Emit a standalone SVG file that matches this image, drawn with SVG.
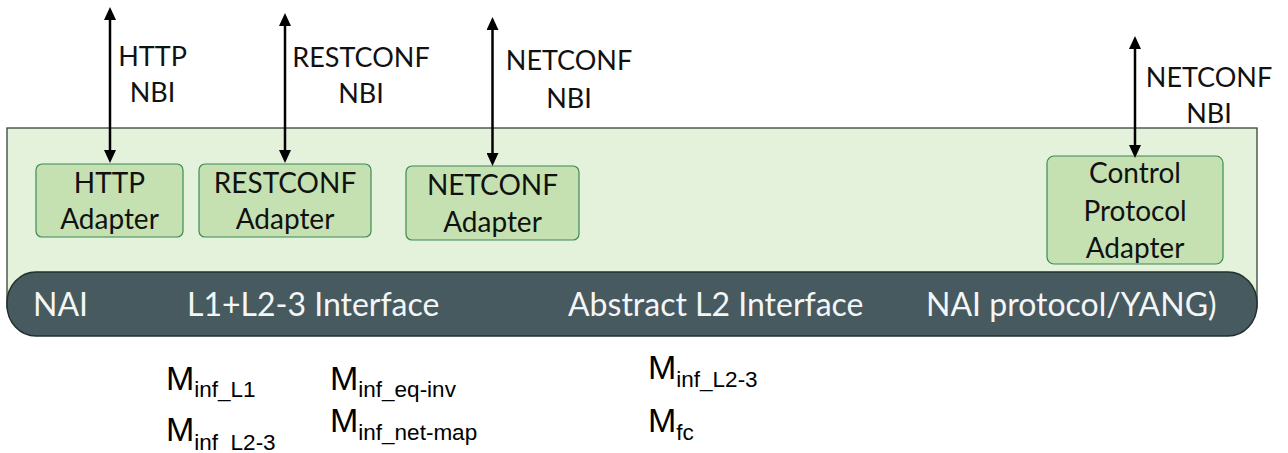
<svg xmlns="http://www.w3.org/2000/svg" width="1288" height="453" viewBox="0 0 1288 453">
  <style>
    .container { fill: #E4F1DB; stroke: #33443A; stroke-width: 1.3; }
    .adapter { fill: #C5E1B2; stroke: #3C8A55; stroke-width: 1.2; }
    .band { fill: #465A60; stroke: #22312C; stroke-width: 1.5; }
    .lbl { font-family: Lato, "Open Sans", sans-serif; font-size: 27px; fill: #111; text-anchor: middle; }
    .box-txt { font-size: 28px; }
    .band-txt { font-family: Lato, "Open Sans", sans-serif; font-size: 32px; fill: #F4F6F6; }
    .conn { stroke: #000; stroke-width: 2.5; fill: none; }
    .m { font-family: "Liberation Sans", Arial, sans-serif; font-size: 34px; fill: #000; }
    .sub { font-size: 22.5px; }
  </style>
  <defs>
    <marker id="head" markerUnits="userSpaceOnUse" markerWidth="13" markerHeight="12" refX="5" refY="6" orient="auto-start-reverse">
      <path d="M0,0 L13,6 L0,12 z" fill="#000"/>
    </marker>
  </defs>

  <!-- NAI container -->
  <g id="container">
    <rect class="container" x="7" y="128" width="1250" height="180"/>
  </g>

  <!-- NAI band -->
  <g id="nai-band">
    <rect class="band" x="7" y="272" width="1250" height="64" rx="29" ry="31"/>
    <text class="band-txt" x="33" y="316">NAI</text>
    <text class="band-txt" x="187" y="316">L1+L2-3 Interface</text>
    <text class="band-txt" x="568" y="316">Abstract L2 Interface</text>
    <text class="band-txt" x="926" y="316">NAI protocol/YANG)</text>
  </g>

  <!-- Adapters -->
  <g id="http-adapter">
    <rect class="adapter" x="36" y="164" width="147" height="73" rx="6"/>
    <text class="lbl box-txt" x="109.5" y="193">HTTP</text>
    <text class="lbl box-txt" x="109.5" y="229">Adapter</text>
  </g>
  <g id="restconf-adapter">
    <rect class="adapter" x="199" y="164" width="172" height="73" rx="6"/>
    <text class="lbl box-txt" x="285" y="193">RESTCONF</text>
    <text class="lbl box-txt" x="285" y="229">Adapter</text>
  </g>
  <g id="netconf-adapter">
    <rect class="adapter" x="406" y="166" width="173" height="74" rx="6"/>
    <text class="lbl box-txt" x="492.5" y="195">NETCONF</text>
    <text class="lbl box-txt" x="492.5" y="232">Adapter</text>
  </g>
  <g id="control-protocol-adapter">
    <rect class="adapter" x="1047" y="156" width="176" height="108" rx="7"/>
    <text class="lbl box-txt" x="1135" y="183">Control</text>
    <text class="lbl box-txt" x="1135" y="221">Protocol</text>
    <text class="lbl box-txt" x="1135" y="258">Adapter</text>
  </g>

  <!-- Northbound interfaces -->
  <g id="connectors">
    <line class="conn" x1="110" y1="15" x2="110" y2="155" marker-start="url(#head)" marker-end="url(#head)"/>
    <line class="conn" x1="285" y1="21" x2="285" y2="155" marker-start="url(#head)" marker-end="url(#head)"/>
    <line class="conn" x1="492.5" y1="25" x2="492.5" y2="158" marker-start="url(#head)" marker-end="url(#head)"/>
    <line class="conn" x1="1135" y1="44" x2="1135" y2="150" marker-start="url(#head)" marker-end="url(#head)"/>
    <text class="lbl" x="152.5" y="66">HTTP</text>
    <text class="lbl" x="152.5" y="102">NBI</text>
    <text class="lbl" x="361" y="67">RESTCONF</text>
    <text class="lbl" x="361" y="103">NBI</text>
    <text class="lbl" x="569" y="70">NETCONF</text>
    <text class="lbl" x="569" y="108">NBI</text>
    <text class="lbl" x="1209" y="87">NETCONF</text>
    <text class="lbl" x="1209" y="123">NBI</text>
  </g>

  <!-- Information models -->
  <g id="models">
    <text class="m" x="166" y="390">M<tspan class="sub" dy="7">inf_L1</tspan></text>
    <text class="m" x="166" y="441">M<tspan class="sub" dy="9">inf_L2-3</tspan></text>
    <text class="m" x="330" y="390">M<tspan class="sub" dy="7">inf_eq-inv</tspan></text>
    <text class="m" x="330" y="432">M<tspan class="sub" dy="8">inf_net-map</tspan></text>
    <text class="m" x="648" y="379">M<tspan class="sub" dy="8">inf_L2-3</tspan></text>
    <text class="m" x="648" y="432">M<tspan class="sub" dy="8">fc</tspan></text>
  </g>
</svg>
